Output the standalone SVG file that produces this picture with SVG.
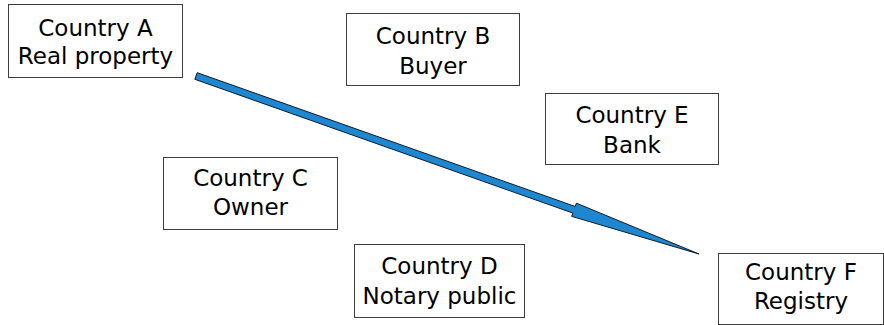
<svg xmlns="http://www.w3.org/2000/svg" width="884" height="325" viewBox="0 0 884 325">
<style>
.box{fill:#fff;stroke:#3c3c3c;stroke-width:1}
.t{font-family:"DejaVu Sans",Verdana,sans-serif;font-size:23px;fill:#000;text-anchor:middle}
.arrow{fill:#1e87cf;stroke:#0a1a2a;stroke-width:1;stroke-linejoin:miter}
</style>
<rect width="884" height="325" fill="#fff"/>
<g id="connectors">
<polygon class="arrow" points="197.17,72.70 575.19,206.47 576.36,203.17 699,254 571.69,216.37 572.85,213.07 194.83,79.30"/>
</g>
<g id="nodeA">
<rect class="box" x="8.5" y="4.5" width="174" height="73"/>
<text class="t" x="95.5" y="36">Country A</text>
<text class="t" x="95.5" y="64">Real property</text>
</g>
<g id="nodeB">
<rect class="box" x="346.5" y="13.5" width="173" height="72"/>
<text class="t" x="433" y="44">Country B</text>
<text class="t" x="433" y="74">Buyer</text>
</g>
<g id="nodeE">
<rect class="box" x="545.5" y="93.5" width="173" height="71"/>
<text class="t" x="632" y="123">Country E</text>
<text class="t" x="632" y="153">Bank</text>
</g>
<g id="nodeC">
<rect class="box" x="163.5" y="157.5" width="174" height="72"/>
<text class="t" x="250.5" y="186">Country C</text>
<text class="t" x="250.5" y="215">Owner</text>
</g>
<g id="nodeD">
<rect class="box" x="354.5" y="244.5" width="170" height="73"/>
<text class="t" x="439.5" y="274">Country D</text>
<text class="t" x="439.5" y="304">Notary public</text>
</g>
<g id="nodeF">
<rect class="box" x="718.5" y="253.5" width="165" height="71"/>
<text class="t" x="801" y="280">Country F</text>
<text class="t" x="801" y="309">Registry</text>
</g>
</svg>
